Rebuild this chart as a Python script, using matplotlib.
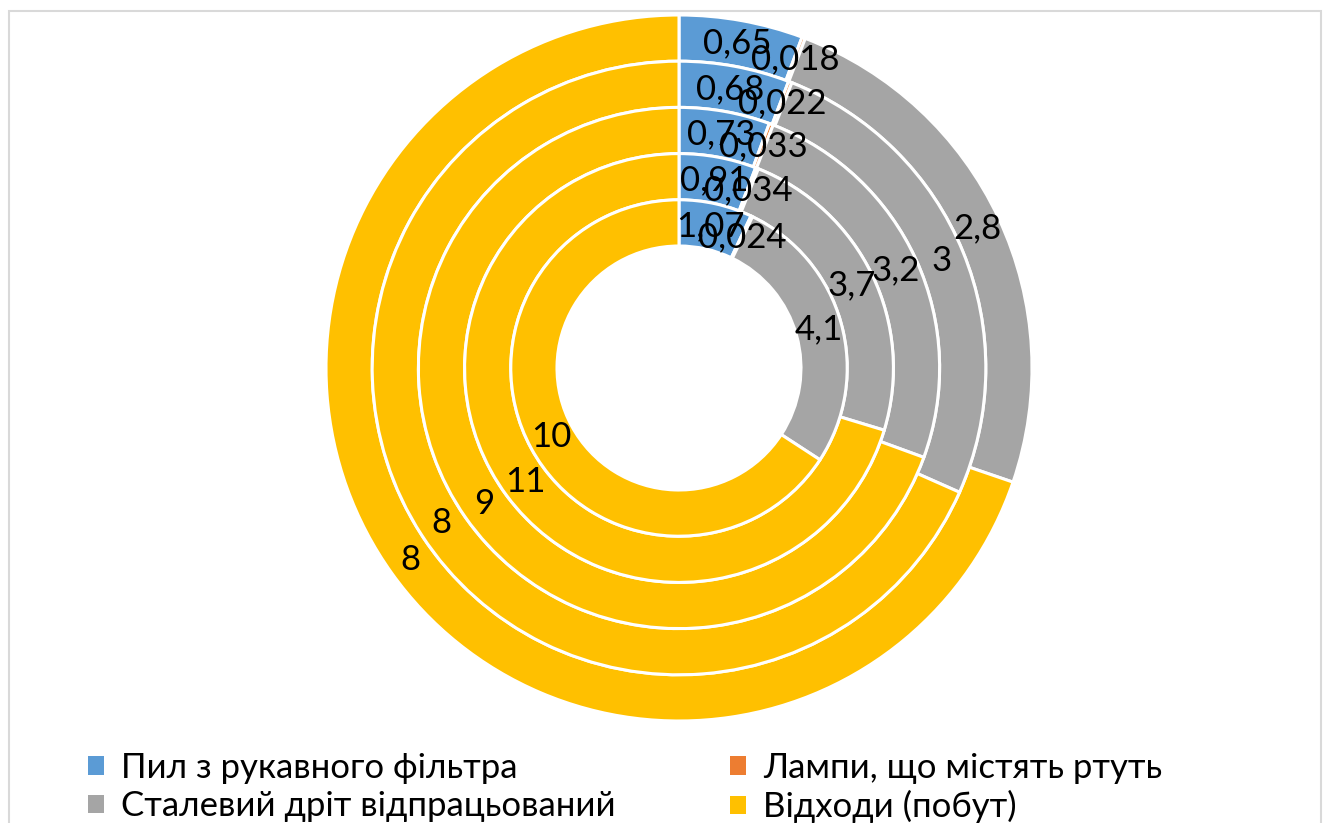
import matplotlib.pyplot as plt
from matplotlib.patches import Patch, Rectangle
import numpy as np

plt.rcParams['font.family'] = ['Lato', 'DejaVu Sans']

categories = ["Пил з рукавного фільтра", "Лампи, що містять ртуть",
              "Сталевий дріт відпрацьований", "Відходи (побут)"]
colors = ["#5B9BD5", "#ED7D31", "#A5A5A5", "#FFC000"]

# rings, outer to inner
ring1 = [0.65, 0.018, 2.8, 8]
ring2 = [0.68, 0.022, 3, 8]
ring3 = [0.73, 0.033, 3.2, 9]
ring4 = [0.91, 0.034, 3.7, 11]
ring5 = [1.07, 0.024, 4.1, 10]
rings = [ring1, ring2, ring3, ring4, ring5]

W, H = 1323, 823
fig = plt.figure(figsize=(W / 100, H / 100), dpi=100)
ax = fig.add_axes([0, 0, 1, 1])

cx, cy = 679, H - 368
r_out = 353
width = 46.2

for i, vals in enumerate(rings):
    r = r_out - i * width
    wedges, _ = ax.pie(vals, radius=r, center=(cx, cy), colors=colors,
                       startangle=90, counterclock=False,
                       wedgeprops=dict(width=width, edgecolor='white', linewidth=2.2))
    rm = r - width / 2
    for w, v in zip(wedges, vals):
        th = np.deg2rad((w.theta1 + w.theta2) / 2)
        ax.text(cx + rm * np.cos(th), cy + rm * np.sin(th),
                f"{v:g}".replace(".", ","), ha='center', va='center',
                fontsize=25, color='black')

ax.set_xlim(0, W)
ax.set_ylim(0, H)
ax.set_aspect('equal')
ax.axis('off')

# outer chart frame
fig.patches.append(Rectangle((8.5 / W, -0.1), (1321 - 8.5) / W, (H - 11.5) / H + 0.1,
                             transform=fig.transFigure, fill=False,
                             edgecolor='#D9D9D9', linewidth=1.5))

order = [0, 2, 1, 3]
handles = [Patch(facecolor=colors[k], edgecolor='none') for k in order]
fig.legend(handles, [categories[k] for k in order], ncol=2, frameon=False,
           loc='upper left', bbox_to_anchor=(88 / W, 1 - 752 / H),
           fontsize=25, handlelength=0.45, handleheight=0.45,
           handletextpad=0.5, columnspacing=3.3, labelspacing=0.18,
           borderpad=0, borderaxespad=0)

fig.savefig('out.png', dpi=100)
